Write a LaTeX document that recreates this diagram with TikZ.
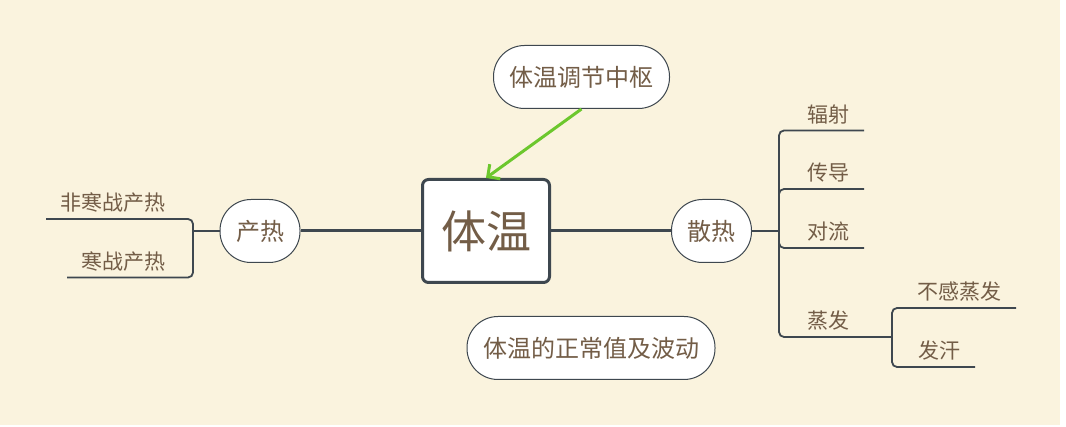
\documentclass[tikz,border=0pt]{standalone}
\usepackage{fontspec}
\newfontfamily\cjk{Noto Sans CJK SC}
\usepackage{xcolor}
\usetikzlibrary{arrows.meta, positioning}
\definecolor{beige}{RGB}{250,243,222}
\definecolor{ink}{RGB}{115,93,71}
\definecolor{slate}{RGB}{62,71,79}
\definecolor{sprout}{RGB}{108,199,45}

\begin{document}
\begin{tikzpicture}[x=1pt, y=-1pt,
    topic/.style={draw=slate, line width=1pt, fill=white, rounded corners=31pt,
        minimum height=63pt, inner xsep=16pt, text=ink,
        font=\cjk\fontsize{24}{28}\selectfont},
    centre/.style={draw=slate, line width=3pt, fill=white, rounded corners=6pt,
        minimum width=127pt, minimum height=103pt, text=ink,
        font=\cjk\fontsize{45}{50}\selectfont},
    leaf/.style={text=ink, inner xsep=14pt, inner ysep=7pt, text depth=1pt,
        font=\cjk\fontsize{21}{25}\selectfont},
    trunk/.style={slate, line width=3pt},
    twig/.style={slate, line width=1.8pt, rounded corners=5pt}]
    % 背景
    \useasboundingbox (0,0) rectangle (1066,427);
    \fill[white] (0,0) rectangle (1066,427);
    \fill[beige] (0,0) rectangle (1060,425);

    % 中心主题与分支主题
    \node[centre] (tiwen) at (486,231) {体温};
    \node[topic] (zhongshu) at (581.5,77) {体温调节中枢};
    \node[topic] (chanre) at (260,231) {产热};
    \node[topic] (sanre) at (711.5,231) {散热};
    \node[topic] (bodong) at (591,348) {体温的正常值及波动};

    % 子主题
    \node[leaf, anchor=south west] (feihan) at (46,219) {非寒战产热};
    \node[leaf, anchor=south west] (hanzhan) at (67,277.5) {寒战产热};
    \node[leaf, anchor=south east] (fushe) at (864,130.5) {辐射};
    \node[leaf, anchor=south east] (chuandao) at (864,189) {传导};
    \node[leaf, anchor=south east] (duiliu) at (864,248) {对流};
    \node[leaf, anchor=south east] (zhengfa) at (864,337) {蒸发};
    \node[leaf, anchor=south east] (bugan) at (1016,308) {不感蒸发};
    \node[leaf, anchor=south east] (fahan) at (975,367) {发汗};
    \coordinate (cb) at (193,231);
    \coordinate (sb) at (779,231);
    \coordinate (zb) at (892,337);

    % 连线
    \draw[trunk] (chanre.east) -- (tiwen.west);
    \draw[trunk] (tiwen.east) -- (sanre.west);
    \draw[sprout, line width=3pt, -{Straight Barb[length=9pt, width=18pt]}]
        (zhongshu.south) -- (tiwen.north);
    \draw[twig] (chanre.west) -- (cb);
    \draw[twig] (cb) |- (feihan.south west);
    \draw[twig] (cb) |- (hanzhan.south west);
    \draw[slate, line width=2.4pt] (sanre.east) -- (sb);
    \draw[twig] (sb) |- (fushe.south east);
    \draw[twig] (sb) |- (chuandao.south east);
    \draw[twig] (sb) |- (duiliu.south east);
    \draw[twig] (sb) |- (zhengfa.south east) -- (zb);
    \draw[twig] (zb) |- (bugan.south east);
    \draw[twig] (zb) |- (fahan.south east);
\end{tikzpicture}
\end{document}
